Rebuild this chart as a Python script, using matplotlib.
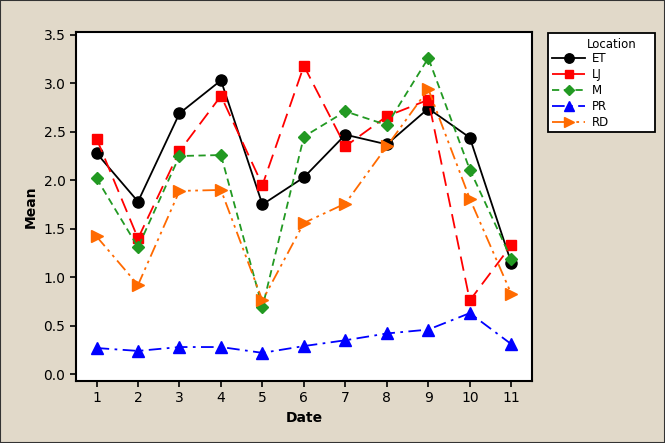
import matplotlib
matplotlib.use('Agg')
from matplotlib import pyplot as plt
from matplotlib.patches import Rectangle

dates = list(range(1, 12))
et = [2.28, 1.78, 2.69, 3.03, 1.75, 2.03, 2.47, 2.37, 2.74, 2.44, 1.15]
lj = [2.43, 1.40, 2.30, 2.87, 1.95, 3.18, 2.35, 2.66, 2.83, 0.76, 1.33]
m = [2.02, 1.31, 2.25, 2.26, 0.69, 2.45, 2.71, 2.57, 3.26, 2.11, 1.19]
pr = [0.27, 0.24, 0.28, 0.28, 0.22, 0.29, 0.35, 0.42, 0.46, 0.63, 0.31]
rd = [1.42, 0.92, 1.89, 1.90, 0.76, 1.56, 1.76, 2.35, 2.94, 1.81, 0.83]

W, H = 665, 443
bg = '#e1d9c9'
fig = plt.figure(figsize=(W / 100, H / 100), dpi=100, facecolor=bg)
ax = fig.add_axes([0.114, 0.14, 0.686, 0.788])
ax.set_facecolor('white')

ax.plot(dates, et, color='black', linestyle='-', marker='o', markersize=8, linewidth=1.3, label='ET')
ax.plot(dates, lj, color='#ff0000', linestyle=(0, (8, 4)), marker='s', markersize=7, linewidth=1.3, label='LJ')
ax.plot(dates, m, color='#229922', linestyle=(0, (4, 2.5)), marker='D', markersize=6.5, linewidth=1.3, label='M')
ax.plot(dates, pr, color='#0000ff', linestyle=(0, (7, 3, 1.5, 3)), marker='^', markersize=8, linewidth=1.3, label='PR')
ax.plot(dates, rd, color='#ff6a00', linestyle=(0, (7, 2.5, 1.5, 2.5, 1.5, 2.5)), marker='>', markersize=8, linewidth=1.3, label='RD')

ax.set_xlim(0.5, 11.5)
ax.set_ylim(-0.07, 3.53)
ax.set_xticks(dates)
ax.set_yticks([0.0, 0.5, 1.0, 1.5, 2.0, 2.5, 3.0, 3.5])
ax.set_yticklabels(['0.0', '0.5', '1.0', '1.5', '2.0', '2.5', '3.0', '3.5'])
ax.tick_params(direction='out', length=4, width=1.2, labelsize=10)
for s in ax.spines.values():
    s.set_linewidth(1.5)
ax.set_xlabel('Date', fontsize=10, fontweight='bold')
ax.set_ylabel('Mean', fontsize=10, fontweight='bold')

# legend box drawn by hand so it matches the original's proportions
fig.patches.append(Rectangle((548 / W, 1 - 132 / H), 107 / W, 99 / H, transform=fig.transFigure,
                             facecolor='white', edgecolor='black', linewidth=1.3, zorder=1))
fig.text(637 / W, 1 - 44 / H, 'Location', ha='right', va='center', fontsize=8.5, zorder=3)
leg = fig.legend(loc='upper left', bbox_to_anchor=(552 / W, 1 - 52 / H), frameon=False,
                 fontsize=8.5, handlelength=2.8, handletextpad=0.6, labelspacing=0.26,
                 borderpad=0, borderaxespad=0, markerscale=0.85)
leg.set_zorder(3)

fig.patches.append(Rectangle((0, 0), 1, 1, transform=fig.transFigure, fill=False,
                             edgecolor='#333333', linewidth=1.5))
fig.savefig('out.png', dpi=100, facecolor=bg)
